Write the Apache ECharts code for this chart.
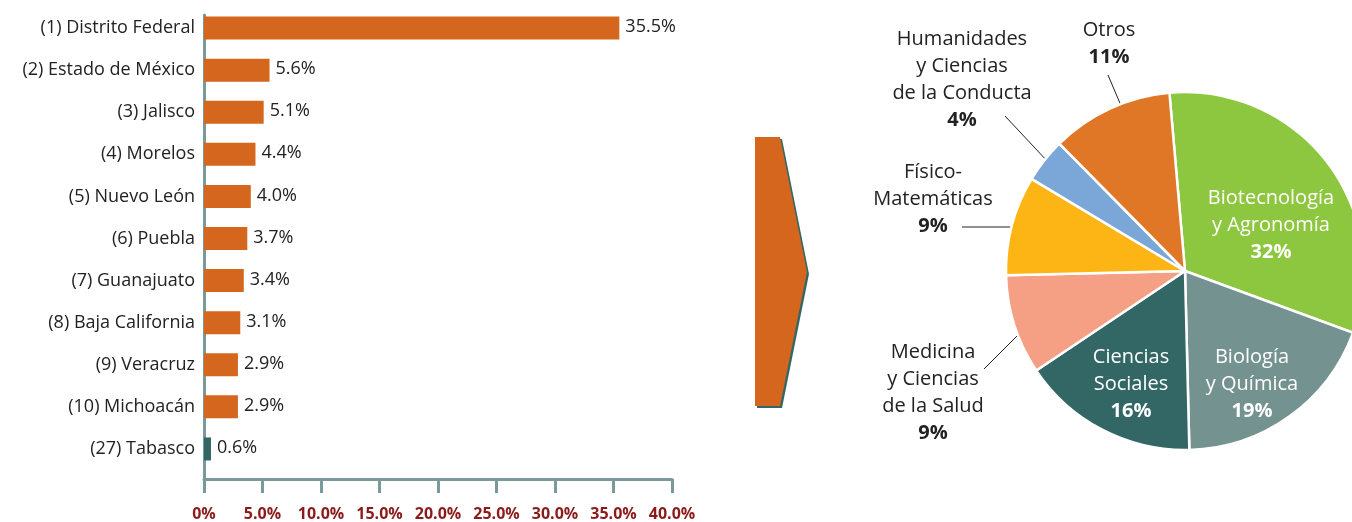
<!DOCTYPE html>
<html>
<head>
<meta charset="utf-8">
<title>Distribución por entidad y área</title>
<script src="https://cdn.jsdelivr.net/npm/echarts@6/dist/echarts.min.js"></script>
<style>
  html, body { margin: 0; padding: 0; background: #fff; }
  #chart { width: 1352px; height: 522px; }
</style>
</head>
<body>
<div id="chart"></div>
<script>
// bar chart data (top to bottom)
const states = [
  '(1) Distrito Federal', '(2) Estado de México', '(3) Jalisco', '(4) Morelos',
  '(5) Nuevo León', '(6) Puebla', '(7) Guanajuato', '(8) Baja California',
  '(9) Veracruz', '(10) Michoacán', '(27) Tabasco'
]
const stateShares = [35.5, 5.6, 5.1, 4.4, 4.0, 3.7, 3.4, 3.1, 2.9, 2.9, 0.6]
const highlightState = '(27) Tabasco'

const xTicks = [0, 5, 10, 15, 20, 25, 30, 35, 40]

// pie data (clockwise from top)
const areas = [
  'Biotecnología\ny Agronomía', 'Biología\ny Química', 'Ciencias\nSociales',
  'Medicina\ny Ciencias\nde la Salud', 'Físico-\nMatemáticas',
  'Humanidades\ny Ciencias\nde la Conducta', 'Otros'
]
const areaShares = [32, 19, 16, 9, 9, 4, 11]
const areaColors = ['#8dc63f', '#74928f', '#336766', '#f5a084', '#fdb515', '#7ba7d8', '#df7726']

// label placement for the pie (centre of text block, optional leader line)
const pieLabelPos = [
  { x: 1271, y: 225, inside: true },
  { x: 1252, y: 384, inside: true },
  { x: 1131, y: 384, inside: true },
  { x: 933, y: 393, line: [[1021, 332], [1021, 332], [984, 369]] },
  { x: 933, y: 199, line: [[1017, 227], [1017, 227], [962, 227]] },
  { x: 962, y: 80, line: [[1049, 163], [1049, 163], [1005, 116]] },
  { x: 1109, y: 44, line: [[1122, 108], [1122, 108], [1108, 75]] }
]

const orange = '#d4661e'
const teal = '#336766'
const axisGrey = '#7a9a9a'
const font = '"Open Sans", "Noto Sans", sans-serif'

const chart = echarts.init(document.getElementById('chart'))

const option = {
  backgroundColor: '#fff',
  animation: false,
  textStyle: { fontFamily: font },
  grid: [
    { left: 204, right: 680, top: 7, bottom: 52 },
    { left: 204, right: 680, top: 15, bottom: 39 }
  ],
  xAxis: [
    { gridIndex: 0, type: 'value', min: 0, max: 40, show: false },
    {
      gridIndex: 1,
      type: 'value',
      min: xTicks[0],
      max: xTicks[xTicks.length - 1],
      interval: xTicks[1] - xTicks[0],
      axisLine: { show: true, onZero: false, lineStyle: { color: axisGrey, width: 3 } },
      axisTick: { show: true, length: 14, lineStyle: { color: axisGrey, width: 3 } },
      splitLine: { show: false },
      axisLabel: {
        margin: 27,
        color: '#8b1a1a',
        fontWeight: 'bold',
        fontSize: 16,
        fontFamily: font,
        formatter: v => (v === 0 ? '0%' : v.toFixed(1) + '%')
      }
    }
  ],
  yAxis: [
    {
      gridIndex: 0,
      type: 'category',
      inverse: true,
      data: states,
      axisLine: { show: false },
      axisTick: { show: false },
      axisLabel: { margin: 9, color: '#222', fontSize: 18, fontFamily: font }
    },
    {
      gridIndex: 1,
      type: 'value',
      min: 0,
      max: 1,
      axisLine: { show: true, onZero: false, lineStyle: { color: axisGrey, width: 3 } },
      axisTick: { show: false },
      axisLabel: { show: false },
      splitLine: { show: false }
    }
  ],
  series: [
    {
      type: 'bar',
      xAxisIndex: 0,
      yAxisIndex: 0,
      data: stateShares,
      barWidth: 23,
      itemStyle: {
        color: p => (p.name === highlightState ? teal : orange)
      },
      label: {
        show: true,
        position: 'right',
        distance: 6,
        offset: [0, -1],
        color: '#222',
        fontSize: 18,
        fontFamily: font,
        formatter: p => p.value.toFixed(1) + '%'
      }
    },
    {
      type: 'pie',
      center: [1185, 271],
      radius: 179,
      startAngle: 95,
      clockwise: true,
      avoidLabelOverlap: false,
      data: areas.map((n, i) => ({
        name: n,
        value: areaShares[i],
        itemStyle: { color: areaColors[i] },
        labelLine: { show: !pieLabelPos[i].inside }
      })),
      itemStyle: { borderColor: '#fff', borderWidth: 2.5 },
      label: {
        show: true,
        position: 'outside',
        formatter: p => pieLabelPos[p.dataIndex].inside
          ? '{w|' + p.name + '}\n{wb|' + p.value + '%}'
          : '{d|' + p.name + '}\n{db|' + p.value + '%}',
        rich: {
          d: { color: '#222', fontSize: 20, lineHeight: 27, fontFamily: font, align: 'center' },
          db: { color: '#222', fontSize: 20, lineHeight: 27, fontWeight: 'bold', fontFamily: font, align: 'center' },
          w: { color: '#fff', fontSize: 20, lineHeight: 27, fontFamily: font, align: 'center' },
          wb: { color: '#fff', fontSize: 20, lineHeight: 27, fontWeight: 'bold', fontFamily: font, align: 'center' }
        }
      },
      labelLine: { lineStyle: { color: '#222', width: 1 } },
      labelLayout: p => {
        const pos = pieLabelPos[p.dataIndex]
        const out = { x: pos.x, y: pos.y, align: 'center', verticalAlign: 'middle' }
        if (pos.line) out.labelLinePoints = pos.line
        return out
      }
    }
  ],
  graphic: [
    {
      type: 'polygon',
      shape: { points: [[755, 137], [780, 137], [807, 272], [780, 406], [755, 406]] },
      style: {
        fill: orange,
        shadowColor: teal,
        shadowOffsetX: 2,
        shadowOffsetY: 2,
        shadowBlur: 0
      }
    }
  ]
}

chart.setOption(option)
</script>
</body>
</html>
